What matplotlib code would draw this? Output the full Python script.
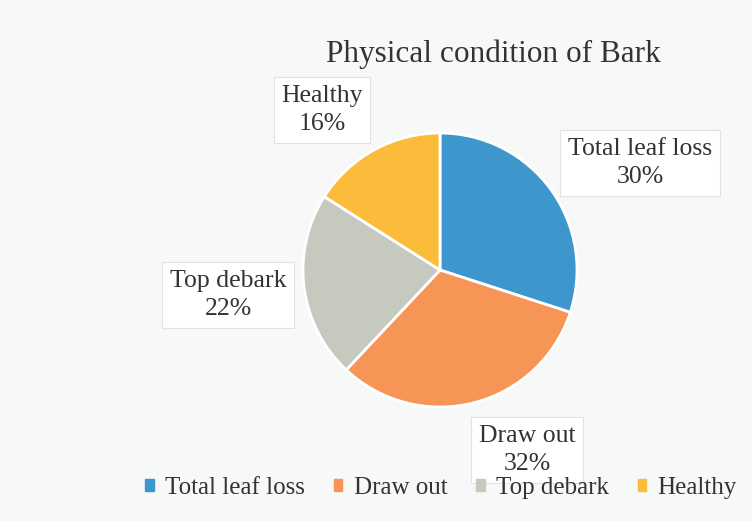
import matplotlib
matplotlib.use("Agg")
import matplotlib.pyplot as plt

categories = ["Total leaf loss", "Draw out", "Top debark", "Healthy"]
values = [30, 32, 22, 16]
colors = ["#3d97cc", "#f79556", "#c5c9be", "#fbbc3c"]

plt.rcParams['font.family'] = ['Liberation Serif', 'DejaVu Serif']

fig = plt.figure(figsize=(7.52, 5.21), dpi=100)
fig.patch.set_facecolor("#f7f8f8")
W, H = 752, 521
cx, cy, r = 440, 270, 137
ax = fig.add_axes([(cx - r) / W, 1 - (cy + r) / H, 2 * r / W, 2 * r / H])
ax.set_facecolor("none")
wedges, _ = ax.pie(values, colors=colors, startangle=90, counterclock=False,
                   radius=1.0, wedgeprops=dict(edgecolor="white", linewidth=2))
ax.set_xlim(-1, 1)
ax.set_ylim(-1, 1)
ax.set_aspect("equal")

label_pos = [(640, 163), (527, 450), (228, 295), (322, 110)]
for (px, py), cat, v in zip(label_pos, categories, values):
    fig.text(px / W, 1 - py / H, f"{cat}\n{v}%", ha="center", va="center",
             fontsize=18.5, color="#333333", linespacing=1.35,
             bbox=dict(boxstyle="square,pad=0.3", facecolor="white",
                       edgecolor="#e2e2e2", linewidth=0.8))

fig.text(493 / W, 1 - 54 / H, "Physical condition of Bark", ha="center",
         va="center", fontsize=22.5, color="#333333")

handles = [plt.Rectangle((0, 0), 1, 1, color=c) for c in colors]
fig.legend(handles, categories, loc="center", bbox_to_anchor=(441 / W, 1 - 488 / H),
           ncol=4, frameon=False, fontsize=18, handlelength=0.35, handleheight=0.35,
           handletextpad=0.45, columnspacing=1.15, labelcolor="#333333",
           borderaxespad=0, borderpad=0)

fig.savefig("out.png", dpi=100, facecolor=fig.get_facecolor())
